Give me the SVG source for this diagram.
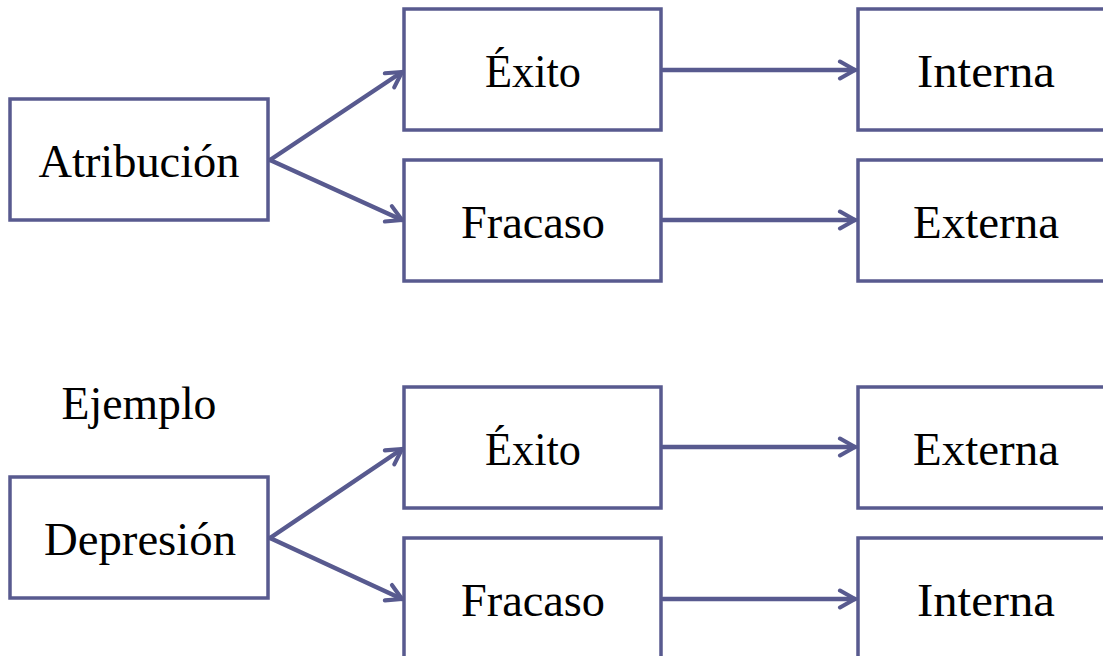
<svg xmlns="http://www.w3.org/2000/svg" width="1103" height="656" viewBox="0 0 1103 656">
  <style>
    .box { fill: #ffffff; stroke: #585a8f; stroke-width: 3.5; }
    .lbl { font-family: "Liberation Serif", "DejaVu Serif", serif; font-size: 46px; fill: #000000; text-anchor: middle; }
    .edge { fill: none; stroke: #585a8f; stroke-width: 4.5; stroke-linecap: round; }
  </style>
  <defs>
    <marker id="chev" viewBox="0 0 12 12" refX="10" refY="6" markerWidth="5" markerHeight="5" markerUnits="strokeWidth" orient="auto">
      <path d="M2,1.5 L10,6 L2,10.5" fill="none" stroke="#585a8f" stroke-width="2.2" stroke-linecap="round" stroke-linejoin="round"/>
    </marker>
  </defs>
  <rect width="1103" height="656" fill="#ffffff"/>

  <!-- upper chain -->
  <g id="atribucion">
    <rect class="box" x="10" y="99" width="258" height="121"/>
    <text class="lbl" x="139" y="177" textLength="201" lengthAdjust="spacingAndGlyphs">Atribución</text>
  </g>
  <g id="exito-1">
    <rect class="box" x="404" y="9" width="257" height="121"/>
    <text class="lbl" x="533" y="87" textLength="96" lengthAdjust="spacingAndGlyphs">Éxito</text>
  </g>
  <g id="fracaso-1">
    <rect class="box" x="404" y="160" width="257" height="121"/>
    <text class="lbl" x="533" y="238" textLength="144" lengthAdjust="spacingAndGlyphs">Fracaso</text>
  </g>
  <g id="interna-1">
    <rect class="box" x="858" y="9" width="260" height="121"/>
    <text class="lbl" x="986" y="87" textLength="138" lengthAdjust="spacingAndGlyphs">Interna</text>
  </g>
  <g id="externa-1">
    <rect class="box" x="858" y="160" width="260" height="121"/>
    <text class="lbl" x="986" y="238" textLength="146" lengthAdjust="spacingAndGlyphs">Externa</text>
  </g>

  <!-- example chain -->
  <g id="ejemplo">
    <text class="lbl" x="139" y="419" textLength="155" lengthAdjust="spacingAndGlyphs">Ejemplo</text>
  </g>
  <g id="depresion">
    <rect class="box" x="10" y="477" width="258" height="121"/>
    <text class="lbl" x="140" y="555" textLength="192" lengthAdjust="spacingAndGlyphs">Depresión</text>
  </g>
  <g id="exito-2">
    <rect class="box" x="404" y="387" width="257" height="121"/>
    <text class="lbl" x="533" y="465" textLength="96" lengthAdjust="spacingAndGlyphs">Éxito</text>
  </g>
  <g id="fracaso-2">
    <rect class="box" x="404" y="538" width="257" height="130"/>
    <text class="lbl" x="533" y="616" textLength="144" lengthAdjust="spacingAndGlyphs">Fracaso</text>
  </g>
  <g id="externa-2">
    <rect class="box" x="858" y="387" width="260" height="121"/>
    <text class="lbl" x="986" y="465" textLength="146" lengthAdjust="spacingAndGlyphs">Externa</text>
  </g>
  <g id="interna-2">
    <rect class="box" x="858" y="538" width="260" height="130"/>
    <text class="lbl" x="986" y="616" textLength="138" lengthAdjust="spacingAndGlyphs">Interna</text>
  </g>

  <g id="connectors">
    <line class="edge" x1="270" y1="160" x2="402" y2="72" marker-end="url(#chev)"/>
    <line class="edge" x1="270" y1="160" x2="402" y2="220" marker-end="url(#chev)"/>
    <line class="edge" x1="663" y1="70" x2="855" y2="70" marker-end="url(#chev)"/>
    <line class="edge" x1="663" y1="220" x2="855" y2="220" marker-end="url(#chev)"/>
    <line class="edge" x1="270" y1="538" x2="402" y2="449" marker-end="url(#chev)"/>
    <line class="edge" x1="270" y1="538" x2="402" y2="599" marker-end="url(#chev)"/>
    <line class="edge" x1="663" y1="447" x2="855" y2="447" marker-end="url(#chev)"/>
    <line class="edge" x1="663" y1="599" x2="855" y2="599" marker-end="url(#chev)"/>
  </g>
</svg>
